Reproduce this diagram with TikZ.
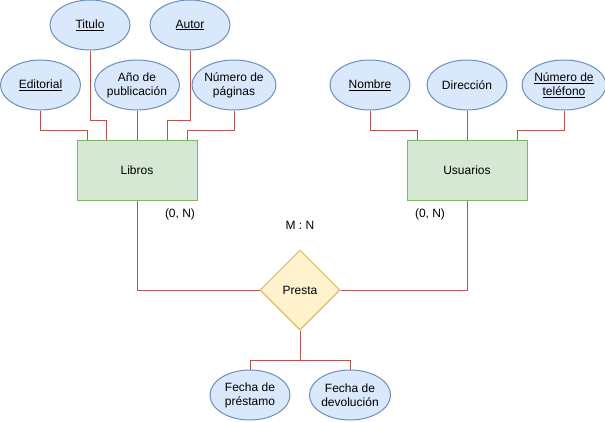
\documentclass[tikz,border=0pt]{standalone}
\usepackage{fontspec}
\setmainfont{Liberation Sans}
\usepackage{tikz}
\usetikzlibrary{shapes.geometric, calc}
\definecolor{atrfill}{HTML}{DAE8FC}
\definecolor{atrline}{HTML}{6C8EBF}
\definecolor{entfill}{HTML}{D5E8D4}
\definecolor{entline}{HTML}{82B366}
\definecolor{relfill}{HTML}{FFF2CC}
\definecolor{relline}{HTML}{D6B656}
\definecolor{conline}{HTML}{B85450}

\begin{document}
\begin{tikzpicture}[x=1pt, y=-1pt, line width=1pt,
  font=\fontsize{12}{14}\selectfont,
  atr/.style={ellipse, draw=atrline, fill=atrfill, minimum width=80pt, minimum height=50pt, inner sep=0pt, align=center},
  ent/.style={rectangle, draw=entline, fill=entfill, minimum width=120pt, minimum height=60pt},
  rel/.style={diamond, draw=relline, fill=relfill, minimum size=80pt, inner sep=0pt, shape aspect=1},
  con/.style={draw=conline}]
\useasboundingbox (0,0) rectangle (605,421);
% entidades
\node[ent] (libros) at (137,170) {Libros};
\node[ent] (usuarios) at (467,170) {Usuarios};
\node[rel] (presta) at (300,290) {Presta};
% atributos de Libros
\node[atr] (titulo) at (90,25) {\underline{Titulo}};
\node[atr] (autor) at (190,25) {\underline{Autor}};
\node[atr] (editorial) at (40.5,85) {\underline{Editorial}};
\node[atr] (anio) at (137,85) {Año de\\publicación};
\node[atr] (paginas) at (234,85) {Número de\\páginas};
% atributos de Usuarios
\node[atr] (nombre) at (370,85) {\underline{Nombre}};
\node[atr] (direccion) at (467,85) {Dirección};
\node[atr] (telefono) at (564,85) {\underline{Número de}\\\underline{teléfono}};
% atributos de Presta
\node[atr] (prestamo) at (250,395) {Fecha de\\préstamo};
\node[atr] (devolucion) at (350,395) {Fecha de\\devolución};
% cardinalidades
\node (cardlib) at (180,214) {(0, N)};
\node (cardusu) at (430,214) {(0, N)};
\node (cardrel) at (300,225) {M : N};
% conexiones
\draw[con] (editorial.south) -- ++(0,20) -| ([xshift=11pt]libros.north west);
\draw[con] (titulo.south) -- ++(0,70) -| ([xshift=30pt]libros.north west);
\draw[con] (anio.south) -- (libros.north);
\draw[con] (autor.south) -- ++(0,70) -| ([xshift=-30pt]libros.north east);
\draw[con] (paginas.south) -- ++(0,20) -| ([xshift=-10pt]libros.north east);
\draw[con] (nombre.south) -- ++(0,20) -| ([xshift=11pt]usuarios.north west);
\draw[con] (direccion.south) -- (usuarios.north);
\draw[con] (telefono.south) -- ++(0,20) -| ([xshift=-10pt]usuarios.north east);
\draw[con] (libros.south) |- (presta.west);
\draw[con] (usuarios.south) |- (presta.east);
\draw[con] (presta.south) -- ++(0,30) coordinate (fork);
\draw[con] (fork) -| (prestamo.north);
\draw[con] (fork) -| (devolucion.north);
\end{tikzpicture}
\end{document}
